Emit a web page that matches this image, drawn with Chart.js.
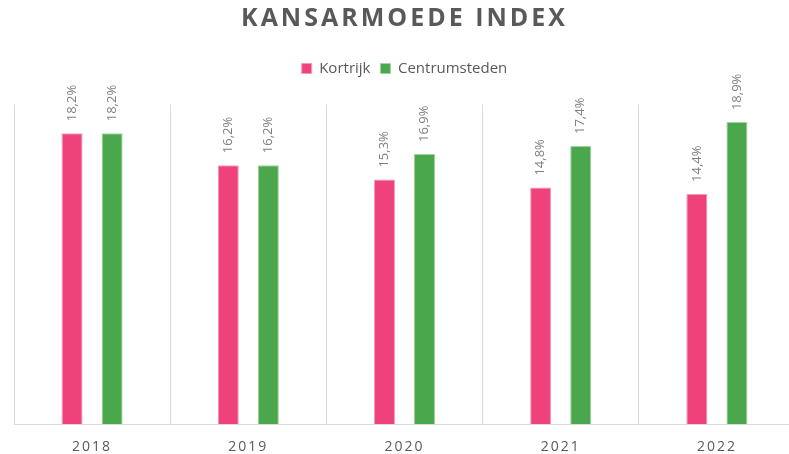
<!DOCTYPE html>
<html>
<head>
<meta charset="utf-8">
<script src="https://cdn.jsdelivr.net/npm/chart.js@4"></script>
<style>
html,body{margin:0;padding:0;background:#fff;overflow:hidden;}
#wrap{position:relative;width:809px;height:454px;}
</style>
</head>
<body>
<div id="wrap"><canvas id="c"></canvas></div>
<script>
const categories = ['2018', '2019', '2020', '2021', '2022'];
const kortrijk = [18.2, 16.2, 15.3, 14.8, 14.4];
const centrumsteden = [18.2, 16.2, 16.9, 17.4, 18.9];
const seriesNames = ['Kortrijk', 'Centrumsteden'];
const yMin = 0, yMax = 20;

const FONT = "'Open Sans', 'Noto Sans', sans-serif";

const spacingPlugin = {
  id: 'spacing',
  beforeInit(chart) {
    if (chart.legend) {
      const origFit = chart.legend.fit;
      chart.legend.fit = function () {
        origFit.call(this);
        this.height = 53.5;
      };
    }
  },
  beforeDraw(chart) {
    const ctx = chart.ctx;
    if (chart.titleBlock && !chart.titleBlock._wrapped) {
      const o = chart.titleBlock.draw;
      chart.titleBlock.draw = function (a) {
        ctx.save(); ctx.letterSpacing = '3px'; o.call(this, a); ctx.restore();
      };
      chart.titleBlock._wrapped = true;
    }
    const xs = chart.scales.x;
    if (xs && !xs._wrapped) {
      const o = xs.drawLabels;
      xs.drawLabels = function (a) {
        ctx.save(); ctx.letterSpacing = '2px'; o.call(this, a); ctx.restore();
      };
      xs._wrapped = true;
    }
  }
};

const labelPlugin = {
  id: 'valueLabels',
  afterDatasetsDraw(chart) {
    const ctx = chart.ctx;
    chart.data.datasets.forEach((ds, i) => {
      const meta = chart.getDatasetMeta(i);
      meta.data.forEach((bar, j) => {
        const txt = ds.data[j].toFixed(1).replace('.', ',') + '%';
        ctx.save();
        ctx.translate(bar.x, bar.y - 12);
        ctx.rotate(-Math.PI / 2);
        ctx.font = "13px " + FONT;
        ctx.fillStyle = '#7f7f7f';
        ctx.textAlign = 'left';
        ctx.textBaseline = 'middle';
        ctx.fillText(txt, 0, 0);
        ctx.restore();
      });
    });
  }
};

new Chart(document.getElementById('c'), {
  type: 'bar',
  data: {
    labels: categories,
    datasets: [
      { label: seriesNames[0], data: kortrijk, backgroundColor: '#EF417A', borderColor: '#F69ABA', borderWidth: 1 },
      { label: seriesNames[1], data: centrumsteden, backgroundColor: '#4BA74B', borderColor: '#9FD39F', borderWidth: 1 }
    ]
  },
  options: {
    responsive: true,
    maintainAspectRatio: false,
    animation: false,
    layout: { padding: { left: 14, right: 14, top: 4, bottom: 0 } },
    datasets: { bar: { categoryPercentage: 0.513, barPercentage: 0.525 } },
    plugins: {
      title: {
        display: true,
        text: 'KANSARMOEDE INDEX',
        color: '#595959',
        font: { family: FONT, size: 25, weight: 'bold' },
        padding: { top: 0, bottom: 17 }
      },
      legend: {
        display: true,
        position: 'top',
        labels: {
          color: '#595959',
          font: { family: FONT, size: 15 },
          boxWidth: 10,
          boxHeight: 10,
          padding: 10
        }
      },
      tooltip: { enabled: false }
    },
    scales: {
      x: {
        grid: { display: true, color: '#d9d9d9', lineWidth: 1, drawTicks: false, offset: true },
        border: { display: true, color: '#d9d9d9' },
        ticks: { color: '#595959', font: { family: FONT, size: 14 }, padding: 15 },
        afterFit(scale) { scale.height = 30; }
      },
      y: {
        display: false,
        min: yMin,
        max: yMax
      }
    }
  },
  plugins: [spacingPlugin, labelPlugin]
});
</script>
</body>
</html>
